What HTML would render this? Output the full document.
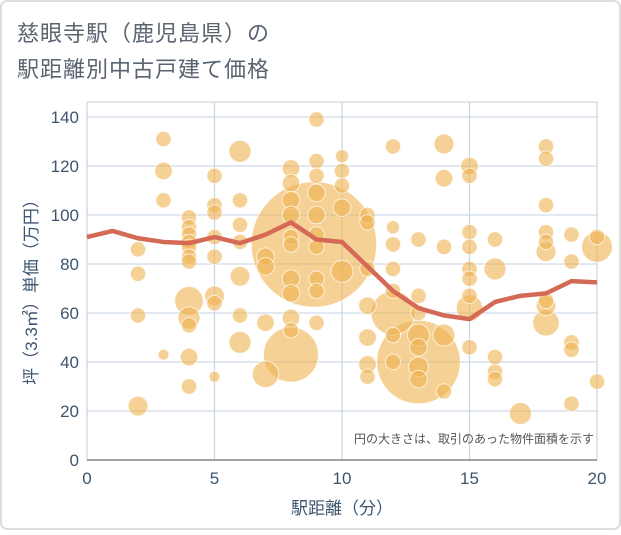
<!DOCTYPE html>
<html><head><meta charset="utf-8">
<style>
html,body{margin:0;padding:0;background:#fff;}
body{width:621px;height:530px;overflow:hidden;font-family:"Liberation Sans","Noto Sans CJK JP",sans-serif;}
</style></head>
<body>
<svg id="chart" width="621" height="530" xmlns="http://www.w3.org/2000/svg" font-family="'Liberation Sans','Noto Sans CJK JP',sans-serif">
<rect x="1" y="1" width="619" height="528" rx="6" fill="#fff" stroke="#ddd" stroke-width="2"/>
<text x="17" y="41" font-size="22" fill="#5a6470" letter-spacing="1">慈眼寺駅（鹿児島県）の</text>
<text x="17" y="77" font-size="22" fill="#5a6470" letter-spacing="1">駅距離別中古戸建て価格</text>
<g id="grid"></g>
<g id="bubbles"></g>
<g id="line"></g>
<g id="axes"></g>
<text x="594" y="443" font-size="12" fill="#555" text-anchor="end">円の大きさは、取引のあった物件面積を示す</text>
<text x="342" y="514" font-size="17" fill="#3d5670" text-anchor="middle">駅距離（分）</text>
<text transform="translate(37,288) rotate(-90)" font-size="17" fill="#3d5670" text-anchor="middle">坪（3.3㎡）単価（万円）</text>
</svg>
<script>
const xTicks=[0,5,10,15,20];
const yTicks=[0,20,40,60,80,100,120,140];
const bubbleX=[2,2,2,2,3,3,3,3,4,4,4,4,4,4,4,4,4,4,4,4,5,5,5,5,5,5,5,5,6,6,6,6,6,6,6,7,7,7,7,8,8,8,8,8,8,8,8,8,8,8,8.9,9,9,9,9,9,9,9,9,9,9,10,10,10,10,10,11,11,11,11,11,11,11,12,12,12,12,12,12,12,12,13,13,13,13,13,13,13,13,14,14,14,14,14,15,15,15,15,15,15,15,15,15,16,16,16,16,16,17,18,18,18,18,18,18,18,18,18,19,19,19,19,19,20,20,20];
const bubbleY=[86,76,59,22,131,118,106,43,99,95,92,89,87,83,81,65,58,55,42,30,116,104,101,91,83,67,64,34,126,106,96,89,75,59,48,83,79,56,35,119,113,106,100,91,74,68,58,53,43,88,88,139,122,116,109,100,92,87,74,69,56,124,118,112,103,77,100,97,78,63,50,39,34,128,95,88,78,69,60,51,40,90,67,60,51,40,33,46,38,129,115,87,51,28,120,116,93,87,78,74,67,62,46,36,90,78,42,33,19,63,128,123,104,93,89,85,65,56,23,92,81,48,45,32,91,87,40];
const bubbleSize=[7,7,7,9,7,8,7,5,7,7,7,7,7,7,7,13,10,7,8,7,7,7,7,7,7,9,7,5,10,7,7,7,9,7,10,8,8,8,12,8,8,8,8,7,8,8,8,7,25,7,57,7,7,7,8,8,7,7,7,7,7,6,7,7,8,10,7,7,7,8,8,8,7,7,6,7,7,7,20,7,7,7,7,7,10,38,8,8,9,9,8,7,10,7,8,7,7,7,7,7,7,12,7,7,7,10,7,7,10,9,7,7,7,7,7,9,7,12,7,7,7,7,7,7,7,14];
const lineX=[0,1,2,3,4,5,6,7,8,9,10,11,12,13,14,15,16,17,18,19,20];
const lineY=[91,93.5,90.5,89,88.5,91,88.5,92,97,90,89,79,69,62,59,57.5,64.5,67,68,73,72.5];
const X0=87,X1=597,Y0=460,Y1=117;
const sx=v=>X0+(v-0)/20*(X1-X0);
const sy=v=>Y0-(v-0)/140*(Y0-Y1);
const NS="http://www.w3.org/2000/svg";
function mk(tag,attrs,parent){const e=document.createElementNS(NS,tag);for(const k in attrs)e.setAttribute(k,attrs[k]);parent.appendChild(e);return e;}
const grid=document.getElementById('grid'),axes=document.getElementById('axes');
mk('rect',{x:X0,y:102,width:X1-X0,height:Y0-102,fill:'none',stroke:'#c8d0da'},grid);
yTicks.forEach(t=>{
 const l=mk('line',{x1:X0,x2:X1,y1:sy(t),y2:sy(t),stroke:'#d0dae6','stroke-width':1.2},grid);
 
 
 const tx=mk('text',{x:X0-8,y:sy(t)+6,'font-size':17,fill:'#3d5670','text-anchor':'end'},axes);
 tx.textContent=t;
 
 
});
xTicks.forEach(t=>{
 const l=mk('line',{x1:sx(t),x2:sx(t),y1:102,y2:Y0,stroke:'#c8d4e2','stroke-width':1.2},grid);
 
 
 const tx=mk('text',{x:sx(t),y:Y0+24,'font-size':17,fill:'#3d5670','text-anchor':'middle'},axes);
 tx.textContent=t;
 
 
});
mk('line',{x1:X0,x2:X1,y1:Y0,y2:Y0,stroke:'#888','stroke-width':1.5},axes);
const bg=document.getElementById('bubbles');
const order=bubbleX.map((_,i)=>i).sort((a,b)=>bubbleSize[b]-bubbleSize[a]);
order.forEach(i=>{
 const c=mk('circle',{cx:sx(bubbleX[i]),cy:sy(bubbleY[i]),r:bubbleSize[i]*1.1,fill:'rgba(238,178,80,0.6)',stroke:'rgba(255,255,255,0.7)','stroke-width':1},bg);
 
 
});
const pl=mk('polyline',{points:lineX.map((x,i)=>sx(x)+','+sy(lineY[i])).join(' '),fill:'none',stroke:'#d46a55','stroke-width':4.5,'stroke-linejoin':'round'},document.getElementById('line'));


</script>
</body></html>
